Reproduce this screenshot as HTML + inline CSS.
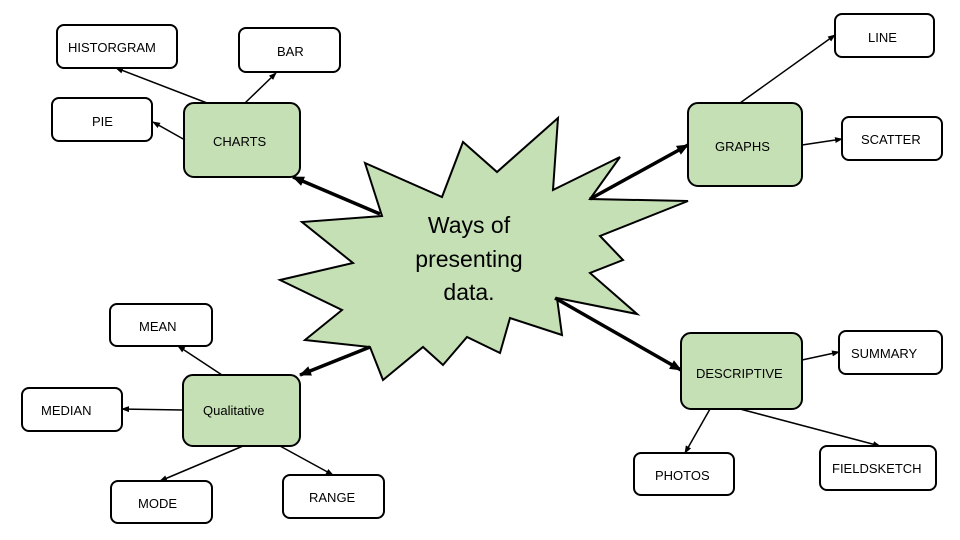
<!DOCTYPE html>
<html><head><meta charset="utf-8"><style>html,body{margin:0;padding:0;background:#fff}svg{display:block}text{font-family:"Liberation Sans",sans-serif;font-size:13px;fill:#000}</style></head><body>
<svg width="960" height="540" viewBox="0 0 960 540" xmlns="http://www.w3.org/2000/svg">
<defs>
<marker id="a" markerWidth="8" markerHeight="8" refX="7" refY="4" orient="auto" markerUnits="userSpaceOnUse"><path d="M0,1 L8,4 L0,7 Z" fill="#000"/></marker>
<marker id="b" markerWidth="12" markerHeight="12" refX="11" refY="6" orient="auto" markerUnits="userSpaceOnUse"><path d="M0,1 L12,6 L0,11 Z" fill="#000"/></marker>
</defs>
<g fill="#fff" stroke="#000" stroke-width="2">
<rect x="57" y="25" width="120" height="43" rx="7"/>
<rect x="239" y="28" width="101" height="44" rx="7"/>
<rect x="52" y="98" width="100" height="43" rx="7"/>
<rect x="835" y="14" width="99" height="43" rx="7"/>
<rect x="842" y="117" width="100" height="43" rx="7"/>
<rect x="110" y="304" width="102" height="42" rx="7"/>
<rect x="22" y="388" width="100" height="43" rx="7"/>
<rect x="111" y="481" width="101" height="42" rx="7"/>
<rect x="283" y="475" width="101" height="43" rx="7"/>
<rect x="839" y="331" width="103" height="43" rx="7"/>
<rect x="634" y="453" width="100" height="42" rx="7"/>
<rect x="820" y="446" width="116" height="44" rx="7"/>
</g>
<g fill="#c5e0b4" stroke="#000" stroke-width="2">
<rect x="184" y="103" width="116" height="74" rx="10"/>
<rect x="688" y="103" width="114" height="83" rx="10"/>
<rect x="183" y="375" width="117" height="71" rx="10"/>
<rect x="681" y="333" width="121" height="76" rx="10"/>
<polygon points="365,163 442,197 463,142 497,172 558,118 553,190 620,157 590,199 688,201 600,236 623,260 590,273 637,314 557,298 562,335 510,318 500,353 467,337 443,365 423,347 383,380 370,347 305,340 342,310 280,280 353,263 302,222 382,216"/>
</g>
<g stroke="#000" stroke-width="1.5" fill="none" marker-end="url(#a)">
<line x1="207" y1="103" x2="116" y2="68"/>
<line x1="245" y1="103" x2="276" y2="73"/>
<line x1="185" y1="140" x2="153" y2="122"/>
<line x1="740" y1="103" x2="835" y2="35"/>
<line x1="802" y1="145" x2="842" y2="139"/>
<line x1="222" y1="375" x2="178" y2="346"/>
<line x1="183" y1="410" x2="122" y2="409"/>
<line x1="243" y1="446" x2="160" y2="481"/>
<line x1="280" y1="446" x2="333" y2="475"/>
<line x1="802" y1="360" x2="839" y2="352"/>
<line x1="710" y1="409" x2="685" y2="453"/>
<line x1="740" y1="409" x2="880" y2="446"/>
</g>
<g stroke="#000" stroke-width="3.5" fill="none" marker-end="url(#b)">
<line x1="380" y1="214" x2="293" y2="177"/>
<line x1="590" y1="199" x2="688" y2="145"/>
<line x1="555" y1="298" x2="681" y2="370"/>
<line x1="370" y1="347" x2="300" y2="375"/>
</g>
<text x="68" y="52">HISTORGRAM</text>
<text x="277" y="56">BAR</text>
<text x="92" y="126">PIE</text>
<text x="213" y="146">CHARTS</text>
<text x="868" y="42">LINE</text>
<text x="715" y="151">GRAPHS</text>
<text x="861" y="144">SCATTER</text>
<text x="139" y="331">MEAN</text>
<text x="41" y="415">MEDIAN</text>
<text x="203" y="415">Qualitative</text>
<text x="138" y="508">MODE</text>
<text x="309" y="502">RANGE</text>
<text x="696" y="378">DESCRIPTIVE</text>
<text x="851" y="358">SUMMARY</text>
<text x="655" y="480">PHOTOS</text>
<text x="832" y="473">FIELDSKETCH</text>
<g text-anchor="middle">
<text x="469" y="233" style="font-size:23px">Ways of</text>
<text x="469" y="267" style="font-size:23px">presenting</text>
<text x="469" y="300" style="font-size:23px">data.</text>
</g>
</svg>
</body></html>
